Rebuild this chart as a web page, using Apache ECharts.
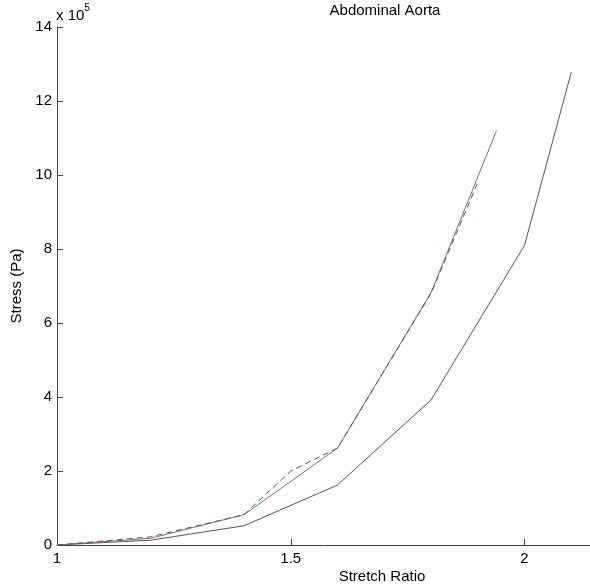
<!DOCTYPE html>
<html>
<head>
<meta charset="utf-8">
<script src="https://cdn.jsdelivr.net/npm/echarts@6/dist/echarts.min.js"></script>
<style>html,body{margin:0;padding:0;background:#fff}#c{width:590px;height:588px}</style>
</head>
<body>
<div id="c"></div>
<script>
// Data (stress in units of 1e5 Pa)
var xLower = [1.0, 1.2, 1.4, 1.6, 1.8, 2.0, 2.1];
var yLower = [0, 0.13, 0.52, 1.62, 3.92, 8.1, 12.78];
var xUpper = [1.0, 1.2, 1.4, 1.6, 1.8, 1.94];
var yUpper = [0, 0.18, 0.82, 2.62, 6.82, 11.2];
var xDashed = [1.0, 1.2, 1.4, 1.5, 1.6, 1.8, 1.9];
var yDashed = [0, 0.22, 0.82, 2.0, 2.62, 6.8, 9.8];
var xTicks = [1, 1.5, 2];
var titleText = 'Abdominal Aorta';
var xLabel = 'Stretch Ratio';
var yLabel = 'Stress (Pa)';

function pairs(xs, ys) { return xs.map(function (x, i) { return [x, ys[i]]; }); }

var font = '"Liberation Sans", Arial, sans-serif';
var chart = echarts.init(document.getElementById('c'), null, {renderer: 'canvas'});
chart.setOption({
  animation: false,
  backgroundColor: '#fff',
  grid: {left: 57, right: 0, top: 27, bottom: 43},
  xAxis: {
    type: 'value', min: 1, max: 2.14,
    axisLine: {show: true, onZero: false, lineStyle: {color: '#444', width: 1}},
    axisTick: {show: true, inside: true, length: 6, customValues: xTicks, lineStyle: {color: '#444'}},
    axisLabel: {show: true, customValues: xTicks, margin: 6, color: '#000', fontSize: 15, fontFamily: font,
      formatter: function (v) { return String(v); }},
    splitLine: {show: false}
  },
  yAxis: {
    type: 'value', min: 0, max: 14, interval: 2,
    axisLine: {show: true, lineStyle: {color: '#444', width: 1}},
    axisTick: {show: true, inside: true, length: 6, lineStyle: {color: '#444'}},
    axisLabel: {margin: 5, color: '#000', fontSize: 15, fontFamily: font},
    splitLine: {show: false}
  },
  graphic: [
    {type: 'text', x: 385, y: 11, style: {text: titleText, textAlign: 'center', textVerticalAlign: 'middle', fontSize: 15, fontFamily: font, fill: '#000'}},
    {type: 'text', x: 382, y: 577, style: {text: xLabel, textAlign: 'center', textVerticalAlign: 'middle', fontSize: 15, fontFamily: font, fill: '#000'}},
    {type: 'text', rotation: Math.PI / 2, x: 17, y: 286, style: {text: yLabel, textAlign: 'center', textVerticalAlign: 'middle', fontSize: 15, fontFamily: font, fill: '#000'}},
    {type: 'text', x: 56, y: 16, style: {text: 'x 10', textAlign: 'left', textVerticalAlign: 'middle', fontSize: 15, fontFamily: font, fill: '#000'}},
    {type: 'text', x: 87, y: 8, style: {text: '5', textAlign: 'center', textVerticalAlign: 'middle', fontSize: 10, fontFamily: font, fill: '#000'}}
  ],
  series: [
    {type: 'line', data: pairs(xLower, yLower), symbol: 'none', lineStyle: {color: '#555', width: 1}},
    {type: 'line', data: pairs(xUpper, yUpper), symbol: 'none', lineStyle: {color: '#8a6872', width: 1}},
    {type: 'line', data: pairs(xDashed, yDashed), symbol: 'none', lineStyle: {color: '#555', width: 1, type: [6, 4]}}
  ]
});
</script>
</body>
</html>
